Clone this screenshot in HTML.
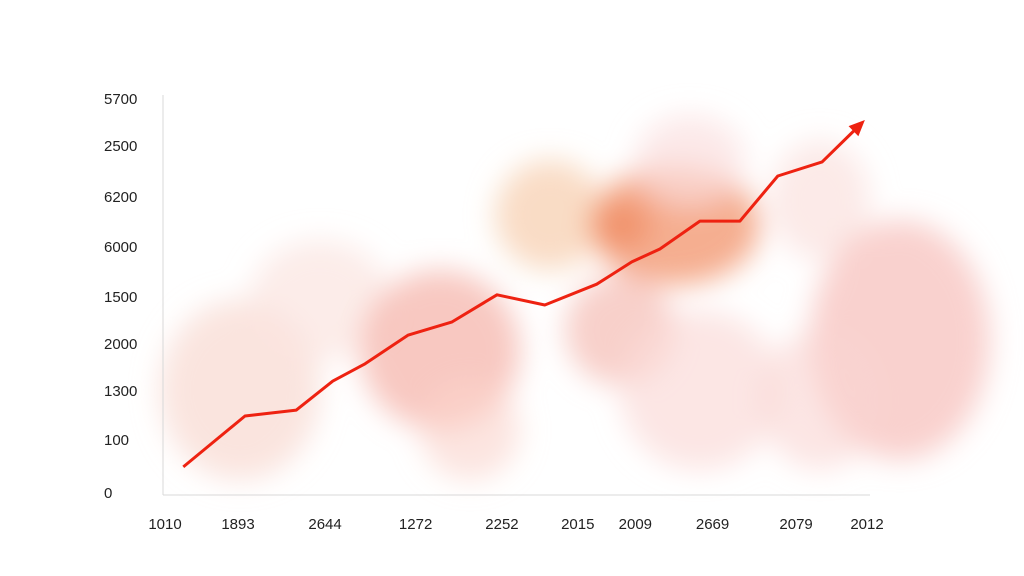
<!DOCTYPE html>
<html><head><meta charset="utf-8"><style>
html,body{margin:0;padding:0;background:#fff;}
svg{display:block;font-family:"Liberation Sans",sans-serif;}
</style></head><body>
<svg id="chart" width="1024" height="576" viewBox="0 0 1024 576">
<defs>
<filter id="blur" x="-50%" y="-50%" width="200%" height="200%"><feGaussianBlur stdDeviation="14"/></filter>
<filter id="blur2" x="-50%" y="-50%" width="200%" height="200%"><feGaussianBlur stdDeviation="6"/></filter>
</defs>
<g id="wash" filter="url(#blur)">
<ellipse cx="240" cy="390" rx="80" ry="90" fill="#f8d8d0" opacity="0.7"/>
<ellipse cx="320" cy="300" rx="70" ry="60" fill="#fbe4e0" opacity="0.7"/>
<ellipse cx="440" cy="350" rx="80" ry="80" fill="#f6b6ac" opacity="0.75"/>
<ellipse cx="470" cy="430" rx="50" ry="50" fill="#fad4cc" opacity="0.6"/>
<ellipse cx="550" cy="215" rx="55" ry="55" fill="#f8d3b6" opacity="0.8"/>
<ellipse cx="620" cy="330" rx="55" ry="55" fill="#f6c0b8" opacity="0.75"/>
<ellipse cx="675" cy="225" rx="85" ry="60" fill="#f3a07c" opacity="0.85"/>
<ellipse cx="620" cy="225" rx="30" ry="25" fill="#f08a60" opacity="0.7"/>
<ellipse cx="690" cy="160" rx="55" ry="45" fill="#fbe0e0" opacity="0.7"/>
<ellipse cx="700" cy="390" rx="80" ry="80" fill="#fbdcd8" opacity="0.7"/>
<ellipse cx="820" cy="200" rx="50" ry="60" fill="#fbe1de" opacity="0.7"/>
<ellipse cx="900" cy="340" rx="90" ry="120" fill="#f8c6c2" opacity="0.8"/>
<ellipse cx="820" cy="400" rx="60" ry="70" fill="#fad6d2" opacity="0.6"/>
</g>
<g id="axes">
<line x1="163" y1="95" x2="163" y2="495" stroke="#d8d8d8" stroke-width="1"/>
<line x1="163" y1="495" x2="870" y2="495" stroke="#d8d8d8" stroke-width="1"/>
</g>
<g id="ylabels"></g>
<g id="xlabels"></g>
<g id="series"></g>
</svg>
<script>
const yTickLabels=["5700","2500","6200","6000","1500","2000","1300","100","0"];
const yTickPos=[100.5,88.5,75.5,62.8,50,38,26,13.5,0];
const xTickLabels=["1010","1893","2644","1272","2252","2015","2009","2669","2079","2012"];
const xTickPos=[0,10.4,22.8,35.7,48,58.8,67,78,89.9,100];
const seriesX=[2.6,11.4,18.7,23.9,28.5,34.6,40.9,47.3,54.1,61.5,66.5,70.5,76.2,81.9,87.3,93.6,99.7];
const seriesY=[6.4,19.4,20.9,28.3,32.7,40,43.4,50.3,47.7,53,58.7,62,69.1,69.1,80.6,84.2,94.9];
const NS="http://www.w3.org/2000/svg";
const xs=v=>165+v*7.02, ys=v=>492-v*3.92;
const yl=document.getElementById('ylabels');
yTickLabels.forEach((t,i)=>{const e=document.createElementNS(NS,'text');


e.setAttribute('x',104);e.setAttribute('y',ys(yTickPos[i])+6);e.setAttribute('font-size','15');e.setAttribute('fill','#222');e.textContent=t;yl.appendChild(e);});
const xl=document.getElementById('xlabels');
xTickLabels.forEach((t,i)=>{const e=document.createElementNS(NS,'text');


e.setAttribute('x',xs(xTickPos[i]));e.setAttribute('y',529);e.setAttribute('font-size','15');e.setAttribute('text-anchor','middle');e.setAttribute('fill','#222');e.textContent=t;xl.appendChild(e);});
const sg=document.getElementById('series');
const n=seriesX.length;
const pts=seriesX.map((x,i)=>xs(x).toFixed(1)+','+ys(seriesY[i]).toFixed(1));
const pl=document.createElementNS(NS,'polyline');


pl.setAttribute('points',pts.slice(0,n-1).join(' ')+' '+((xs(seriesX[n-1])+xs(seriesX[n-2])*0.2)/1.2).toFixed(1)+','+((ys(seriesY[n-1])+ys(seriesY[n-2])*0.2)/1.2).toFixed(1));
pl.setAttribute('fill','none');pl.setAttribute('stroke','#ee2211');pl.setAttribute('stroke-width','3');pl.setAttribute('stroke-linejoin','round');
sg.appendChild(pl);
const ax=xs(seriesX[n-1]),ay=ys(seriesY[n-1]),bx=xs(seriesX[n-2]),by=ys(seriesY[n-2]);
const ang=Math.atan2(ay-by,ax-bx),L=16,W=7;
const p1=[ax-L*Math.cos(ang)+W*Math.sin(ang),ay-L*Math.sin(ang)-W*Math.cos(ang)];
const p2=[ax-L*Math.cos(ang)-W*Math.sin(ang),ay-L*Math.sin(ang)+W*Math.cos(ang)];
const ah=document.createElementNS(NS,'polygon');


ah.setAttribute('points',`${ax},${ay} ${p1[0]},${p1[1]} ${p2[0]},${p2[1]}`);ah.setAttribute('fill','#ee2211');
sg.appendChild(ah);
</script>
</body></html>
